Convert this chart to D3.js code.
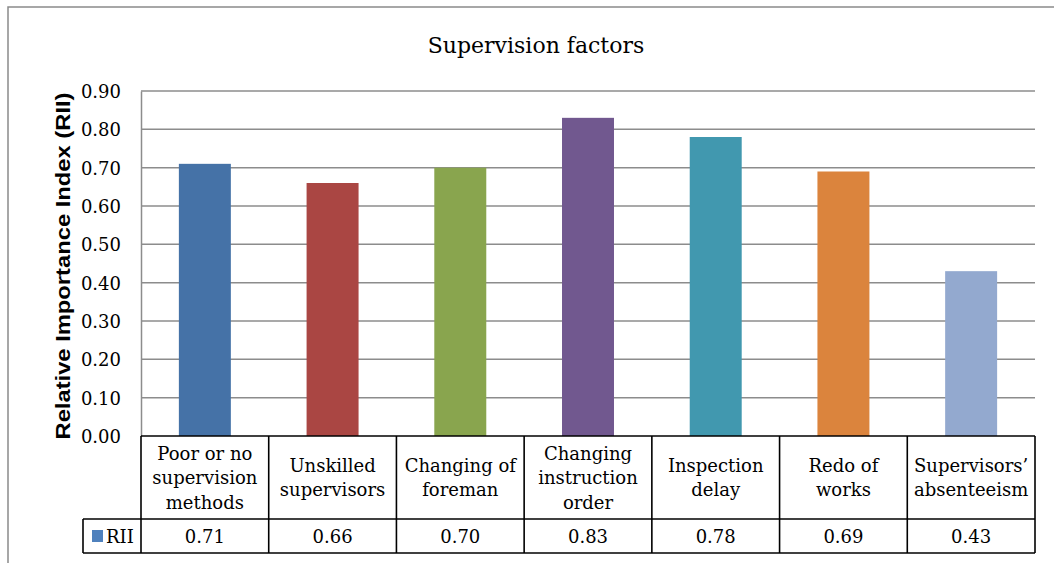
<!DOCTYPE html>
<html>
<head>
<meta charset="utf-8">
<script src="https://cdn.jsdelivr.net/npm/d3@7/dist/d3.min.js"></script>
<style>
    body { margin: 0; background: #fff; }
    svg { display: block; }
    .serif { font-family: "DejaVu Serif", serif; fill: #000; }
</style>
</head>
<body>
<div id="chart"></div>
<script>
const categories = ["Poor or no\nsupervision\nmethods", "Unskilled\nsupervisors", "Changing of\nforeman",
    "Changing\ninstruction\norder", "Inspection\ndelay", "Redo of\nworks", "Supervisors\u2019\nabsenteeism"];
const rii = [0.71, 0.66, 0.70, 0.83, 0.78, 0.69, 0.43];
const yTicks = [0, 0.1, 0.2, 0.3, 0.4, 0.5, 0.6, 0.7, 0.8, 0.9];
const barColors = ["#4572A7", "#AA4643", "#89A54E", "#71588F", "#4198AF", "#DB843D", "#93A9CF"];

const width = 1054,
    height = 563;

const plot = {left: 141, right: 1035, top: 91, bottom: 436};
const headerBottom = 519,
    rowBottom = 553,
    legendLeft = 83;

const svg = d3.select("#chart").append("svg")
    .attr("width", width)
    .attr("height", height);

// outer chart frame (runs off the right and bottom edge)
svg.append("path")
    .attr("d", "M8,600 L8,7 L1060,7")
    .attr("fill", "none")
    .attr("stroke", "#8a8a8a")
    .attr("stroke-width", 1.5);

svg.append("text")
    .attr("class", "serif")
    .attr("x", 536)
    .attr("y", 53)
    .attr("text-anchor", "middle")
    .style("font-size", "22px")
    .text("Supervision factors");

const y = d3.scaleLinear().domain([0, 0.9]).range([plot.bottom, plot.top]);

const cols = d3.scaleBand()
    .domain(d3.range(categories.length))
    .range([plot.left, plot.right]);

const x = d3.scaleBand()
    .domain(d3.range(categories.length))
    .range([plot.left, plot.right])
    .paddingInner(0.593)
    .paddingOuter(0.2965);

// gridlines
svg.append("g")
    .selectAll("line")
    .data(yTicks.filter(function(d) { return d > 0; }))
    .enter().append("line")
    .attr("x1", plot.left)
    .attr("x2", plot.right)
    .attr("y1", function(d) { return y(d); })
    .attr("y2", function(d) { return y(d); })
    .attr("stroke", "#8c8c8c")
    .attr("stroke-width", 1.5);

// y axis
const yAxis = svg.append("g")
    .attr("transform", "translate(" + plot.left + ",0)")
    .call(d3.axisLeft(y).tickValues(yTicks).tickFormat(d3.format(".2f")).tickSize(0).tickPadding(20));
yAxis.select(".domain").attr("stroke", "#8c8c8c").attr("stroke-width", 1.5);
yAxis.selectAll("text")
    .attr("class", "serif")
    .style("font-size", "18px")
    .attr("dy", "0.36em");

svg.append("text")
    .attr("transform", "translate(70,266) rotate(-90)")
    .attr("text-anchor", "middle")
    .attr("textLength", 347)
    .attr("lengthAdjust", "spacingAndGlyphs")
    .style("font-family", "'Liberation Sans', Arial, sans-serif")
    .style("font-weight", "bold")
    .style("font-size", "21px")
    .text("Relative Importance Index (RII)");

// bars
svg.append("g")
    .selectAll("rect")
    .data(rii)
    .enter().append("rect")
    .attr("x", function(d, i) { return x(i); })
    .attr("width", x.bandwidth())
    .attr("y", function(d) { return y(d); })
    .attr("height", function(d) { return y(0) - y(d); })
    .attr("fill", function(d, i) { return barColors[i]; });

// data table
const table = svg.append("g")
    .attr("stroke", "#000")
    .attr("stroke-width", 1.6)
    .attr("fill", "none");

table.append("line").attr("x1", plot.left).attr("x2", plot.right).attr("y1", plot.bottom).attr("y2", plot.bottom);
table.append("line").attr("x1", legendLeft).attr("x2", plot.right).attr("y1", headerBottom).attr("y2", headerBottom);
table.append("line").attr("x1", legendLeft).attr("x2", plot.right).attr("y1", rowBottom).attr("y2", rowBottom);
table.append("line").attr("x1", legendLeft).attr("x2", legendLeft).attr("y1", headerBottom).attr("y2", rowBottom);

table.selectAll(".col")
    .data(d3.range(categories.length + 1))
    .enter().append("line")
    .attr("class", "col")
    .attr("x1", function(i) { return i < categories.length ? cols(i) : plot.right; })
    .attr("x2", function(i) { return i < categories.length ? cols(i) : plot.right; })
    .attr("y1", plot.bottom)
    .attr("y2", rowBottom);

const lineH = 24.5;
const headerMid = (plot.bottom + headerBottom) / 2;

const heads = svg.append("g")
    .selectAll("text")
    .data(categories)
    .enter().append("text")
    .attr("class", "serif")
    .attr("text-anchor", "middle")
    .style("font-size", "18px");

heads.each(function(d, i) {
    const lines = d.split("\n");
    const cx = cols(i) + cols.bandwidth() / 2;
    const first = headerMid - (lines.length - 1) / 2 * lineH + 6.5;
    d3.select(this).selectAll("tspan")
        .data(lines)
        .enter().append("tspan")
        .attr("x", cx)
        .attr("y", function(l, k) { return first + k * lineH; })
        .text(function(l) { return l; });
});

svg.append("g")
    .selectAll("text")
    .data(rii)
    .enter().append("text")
    .attr("class", "serif")
    .attr("text-anchor", "middle")
    .attr("x", function(d, i) { return cols(i) + cols.bandwidth() / 2; })
    .attr("y", (headerBottom + rowBottom) / 2 + 6.5)
    .style("font-size", "18px")
    .text(function(d) { return d3.format(".2f")(d); });

// legend key
svg.append("rect")
    .attr("x", 92)
    .attr("y", 530)
    .attr("width", 11)
    .attr("height", 12)
    .attr("fill", "#4F81BD");

svg.append("text")
    .attr("class", "serif")
    .attr("x", 106)
    .attr("y", (headerBottom + rowBottom) / 2 + 6.5)
    .style("font-size", "18px")
    .text("RII");
</script>
</body>
</html>
